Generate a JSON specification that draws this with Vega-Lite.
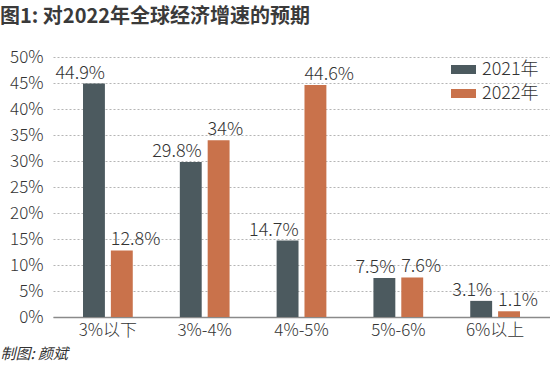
{
  "$schema": "https://vega.github.io/schema/vega-lite/v6.json",
  "width": 497,
  "height": 260,
  "autosize": {"type": "none"},
  "padding": {"left": 53, "top": 57, "right": 0, "bottom": 51},
  "background": "white",
  "config": {
    "font": "Noto Sans CJK SC",
    "view": {"stroke": null}
  },
  "title": {
    "text": "图1: 对2022年全球经济增速的预期",
    "anchor": "start",
    "frame": "group",
    "dx": -53,
    "fontSize": 20,
    "fontWeight": "bold",
    "color": "#3a3a3a",
    "font": "Noto Sans CJK SC",
    "baseline": "alphabetic",
    "offset": 5
  },
  "data": {
    "values": [
      {"range": "3%以下", "year": "2021年", "value": 0.449},
      {"range": "3%以下", "year": "2022年", "value": 0.128},
      {"range": "3%-4%", "year": "2021年", "value": 0.298},
      {"range": "3%-4%", "year": "2022年", "value": 0.34},
      {"range": "4%-5%", "year": "2021年", "value": 0.147},
      {"range": "4%-5%", "year": "2022年", "value": 0.446},
      {"range": "5%-6%", "year": "2021年", "value": 0.075},
      {"range": "5%-6%", "year": "2022年", "value": 0.076},
      {"range": "6%以上", "year": "2021年", "value": 0.031},
      {"range": "6%以上", "year": "2022年", "value": 0.011}
    ]
  },
  "encoding": {
    "x": {
      "field": "range",
      "type": "nominal",
      "sort": ["3%以下", "3%-4%", "4%-5%", "5%-6%", "6%以上"],
      "scale": {"paddingInner": 0.486, "paddingOuter": 0.31},
      "axis": {
        "labelAngle": 0,
        "labelFontSize": 17,
        "labelColor": "#333333",
        "labelFontWeight": 300,
        "labelPadding": 5,
        "ticks": false,
        "domain": true,
        "domainColor": "#8a8a8a",
        "domainWidth": 1.5,
        "title": "制图: 颜斌",
        "titleAnchor": "start",
        "titleAlign": "left",
        "titleX": -53,
        "titleY": 41,
        "titleBaseline": "alphabetic",
        "titleFontSize": 15,
        "titleFontStyle": "italic",
        "titleFontWeight": "normal",
        "titleColor": "#333333"
      }
    },
    "xOffset": {
      "field": "year",
      "type": "nominal",
      "scale": {"paddingInner": 0.214, "paddingOuter": 0}
    },
    "y": {
      "field": "value",
      "type": "quantitative",
      "scale": {"domain": [0, 0.5]},
      "axis": {
        "values": [0, 0.05, 0.1, 0.15, 0.2, 0.25, 0.3, 0.35, 0.4, 0.45, 0.5],
        "format": ".0%",
        "title": null,
        "domain": false,
        "ticks": false,
        "grid": true,
        "gridColor": "#b5b5b5",
        "gridDash": [2, 2],
        "gridWidth": 1,
        "labelFontSize": 17,
        "labelFontWeight": 300,
        "labelColor": "#333333",
        "labelPadding": 10
      }
    }
  },
  "layer": [
    {
      "mark": {"type": "bar"},
      "encoding": {
        "color": {
          "field": "year",
          "type": "nominal",
          "scale": {"range": ["#4c5a5f", "#c9724b"]},
          "legend": {
            "orient": "none",
            "legendX": 398,
            "legendY": 0,
            "title": null,
            "labelFontSize": 18,
            "labelFontWeight": 300,
            "labelColor": "#333333",
            "symbolType": "M-1,-0.36L1,-0.36L1,0.36L-1,0.36Z",
            "symbolSize": 625,
            "symbolStrokeWidth": 0,
            "labelOffset": 6,
            "rowPadding": 2
          }
        }
      }
    },
    {
      "transform": [{"filter": "datum.year === '2021年'"}],
      "mark": {"type": "text", "align": "right", "baseline": "alphabetic", "dx": 11, "dy": -5, "fontSize": 18, "fontWeight": 300, "color": "#333333"},
      "encoding": {"text": {"field": "value", "type": "quantitative", "format": ".1~%"}}
    },
    {
      "transform": [{"filter": "datum.year === '2022年'"}],
      "mark": {"type": "text", "align": "left", "baseline": "alphabetic", "dx": -11, "dy": -5, "fontSize": 18, "fontWeight": 300, "color": "#333333"},
      "encoding": {"text": {"field": "value", "type": "quantitative", "format": ".1~%"}}
    }
  ]
}
